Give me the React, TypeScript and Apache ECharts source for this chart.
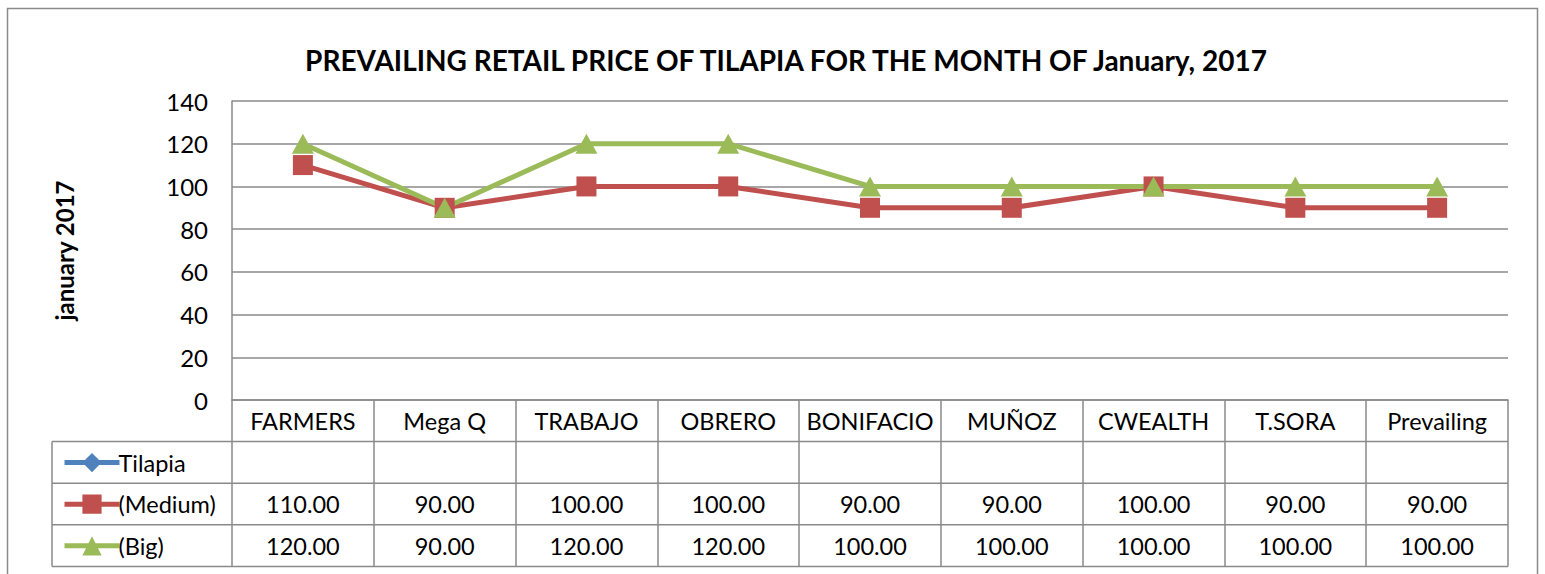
import React, { useEffect, useRef } from "react";
import * as echarts from "echarts";

const categories = ["FARMERS", "Mega Q", "TRABAJO", "OBRERO", "BONIFACIO", "MUÑOZ", "CWEALTH", "T.SORA", "Prevailing"];
const tilapia: (number | null)[] = [null, null, null, null, null, null, null, null, null];
const medium = [110, 90, 100, 100, 90, 90, 100, 90, 90];
const big = [120, 90, 120, 120, 100, 100, 100, 100, 100];
const yTicks = { min: 0, max: 140, interval: 20 };
const titleText = "PREVAILING RETAIL PRICE OF TILAPIA FOR THE MONTH OF January, 2017";
const yName = "january 2017";

const FONT = "Lato";
const GRID_L = 232;
const GRID_R = 1508;
const GRID_T = 101;
const GRID_B = 400;
const ROW_H = 41.6;
const TABLE_L = 52;
const BORDER = "#8a8a8a";

export default function App() {
  const ref = useRef<HTMLDivElement>(null);
  useEffect(() => {
    if (!ref.current) return;
    const chart = echarts.init(ref.current, undefined, { renderer: "svg" });
    const tableBottom = GRID_B + ROW_H * 4;
    const rowLines = [1, 2, 3, 4].map((i) => ({
      type: "line",
      shape: { x1: TABLE_L, y1: GRID_B + ROW_H * i, x2: GRID_R, y2: GRID_B + ROW_H * i },
      style: { stroke: BORDER, lineWidth: 1.5 },
      silent: true,
    }));
    const labelStyle = { fontFamily: FONT, fontSize: 23.5, color: "#000", verticalAlign: "middle" as const };
    const tableAxis = (margin: number, fmt: (v: string, i: number) => string) => ({
      type: "category",
      data: categories,
      position: "bottom",
      boundaryGap: true,
      axisLine: { show: false },
      axisTick: { show: false },
      axisLabel: { ...labelStyle, margin, interval: 0, formatter: fmt },
    });
    chart.setOption({
      animation: false,
      backgroundColor: "#fff",
      title: {
        text: titleText,
        left: 781,
        textAlign: "center",
        top: 41,
        textStyle: { fontFamily: FONT, fontSize: 28, fontWeight: "bold", color: "#000" },
      },
      grid: { left: GRID_L, right: 1545 - GRID_R, top: GRID_T, bottom: 574 - GRID_B, containLabel: false },
      legend: {
        orient: "vertical",
        left: 57,
        top: GRID_B + ROW_H + 4,
        itemWidth: 55,
        itemHeight: 24,
        itemGap: ROW_H - 24,
        selectedMode: false,
        lineStyle: { width: 5 },
        textStyle: { fontFamily: FONT, fontSize: 23.5, color: "#000", padding: [0, 0, 0, -6] },
        data: ["Tilapia", "(Medium)", "(Big)"],
      },
      xAxis: [
        {
          type: "category",
          data: categories,
          position: "bottom",
          boundaryGap: true,
          axisLine: { show: true, lineStyle: { color: BORDER, width: 1.5 } },
          axisTick: { show: true, interval: 0, length: ROW_H * 4, lineStyle: { color: BORDER, width: 1.5 } },
          axisLabel: { ...labelStyle, margin: ROW_H / 2, interval: 0 },
        },
        tableAxis(ROW_H * 1.5, () => ""),
        tableAxis(ROW_H * 2.5, (_v, i) => medium[i].toFixed(2)),
        tableAxis(ROW_H * 3.5, (_v, i) => big[i].toFixed(2)),
      ],
      yAxis: {
        type: "value",
        min: yTicks.min,
        max: yTicks.max,
        interval: yTicks.interval,
        name: yName,
        nameLocation: "middle",
        nameGap: 156,
        nameTextStyle: { fontFamily: FONT, fontSize: 24, fontWeight: "bold", color: "#000" },
        axisLine: { show: true, lineStyle: { color: BORDER, width: 1.5 } },
        axisTick: { show: false },
        axisLabel: { fontFamily: FONT, fontSize: 24, color: "#000", margin: 24 },
        splitLine: { show: true, lineStyle: { color: BORDER, width: 1.5 } },
      },
      series: [
        {
          name: "Tilapia",
          type: "line",
          data: tilapia,
          color: "#4F81BD",
          symbol: "diamond",
          symbolSize: 20,
          lineStyle: { width: 5, color: "#4F81BD" },
        },
        {
          name: "(Medium)",
          type: "line",
          data: medium,
          color: "#C0504D",
          symbol: "rect",
          symbolSize: 20,
          lineStyle: { width: 5, color: "#C0504D" },
          itemStyle: { color: "#C0504D" },
        },
        {
          name: "(Big)",
          type: "line",
          data: big,
          color: "#9BBB59",
          symbol: "triangle",
          symbolSize: [22, 20],
          lineStyle: { width: 5, color: "#9BBB59" },
          itemStyle: { color: "#9BBB59" },
        },
      ],
      graphic: [
        {
          type: "rect",
          shape: { x: 7.5, y: 8.5, width: 1530, height: 620 },
          style: { fill: "none", stroke: "#8a8a8a", lineWidth: 1.5 },
          silent: true,
          z: -1,
        },
        ...rowLines,
        {
          type: "line",
          shape: { x1: TABLE_L, y1: GRID_B + ROW_H, x2: TABLE_L, y2: tableBottom },
          style: { stroke: BORDER, lineWidth: 1.5 },
          silent: true,
        },
      ],
    });
    return () => chart.dispose();
  }, []);
  return <div ref={ref} style={{ position: "absolute", left: 0, top: 0, width: 1545, height: 574 }} />;
}
